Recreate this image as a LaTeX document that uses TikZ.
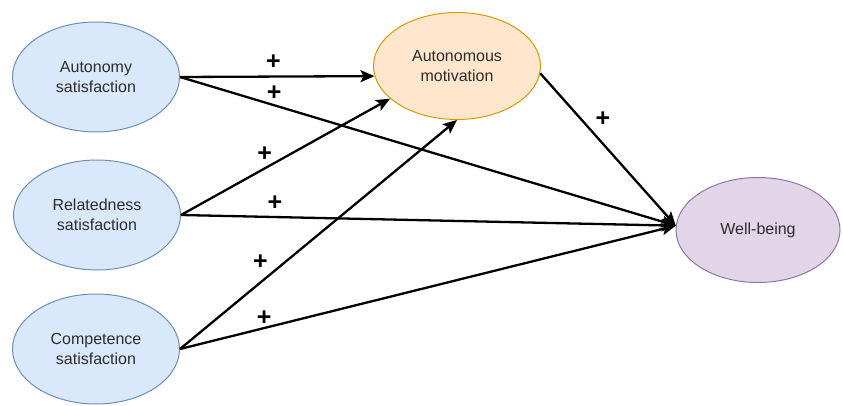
\documentclass[tikz,border=0pt]{standalone}
\usepackage{fontspec}
\setmainfont{Liberation Sans}
\usetikzlibrary{shapes.geometric,arrows.meta}
\definecolor{bluefill}{HTML}{DAE8FC}
\definecolor{blueline}{HTML}{6C8EBF}
\definecolor{orangefill}{HTML}{FFE6CC}
\definecolor{orangeline}{HTML}{D79B00}
\definecolor{purplefill}{HTML}{E1D5E7}
\definecolor{purpleline}{HTML}{9673A6}
\definecolor{textgrey}{RGB}{45,45,45}
\tikzset{
	construct/.style={ellipse,draw,line width=1pt,inner sep=0pt,minimum width=167pt,minimum height=110pt,
		align=center,text=textgrey,font=\fontsize{16}{19.5}\selectfont},
	path/.style={line width=2.3pt,-{Stealth[length=14pt,width=12pt,inset=3pt]}},
	sign/.style={inner sep=0pt,font=\bfseries\fontsize{25}{25}\selectfont}
}
\begin{document}
\begin{tikzpicture}[x=1pt,y=-1pt]
\useasboundingbox (0,0) rectangle (843,406);
\node [construct,fill=bluefill,draw=blueline]	(aut)	at (96,77)	{Autonomy\\satisfaction};
\node [construct,fill=bluefill,draw=blueline]	(rel)	at (97,215)	{Relatedness\\satisfaction};
\node [construct,fill=bluefill,draw=blueline]	(com)	at (96,349)	{Competence\\satisfaction};
\node [construct,fill=orangefill,draw=orangeline,minimum height=107pt]	(am)	at (457,66)	{Autonomous\\motivation};
\node [construct,fill=purplefill,draw=purpleline,minimum width=164pt,minimum height=105pt]	(wb)	at (758,230)	{Well-being};

\draw [path] (aut.east)--(am.187) node [sign,pos=0.48,yshift=14pt]{+};
\draw [path] (aut.east)--(wb.177) node [sign,pos=0.19,yshift=12pt]{+};

\draw [path] (rel.east)--(am.206) node [sign,pos=0.40,yshift=14pt]{+};
\draw [path] (rel.east)--(wb.177) node [sign,pos=0.19,yshift=14pt]{+};

\draw [path] (com.east)--(am.south) node [sign,pos=0.29,yshift=20pt]{+};
\draw [path] (com.east)--(wb.177) node [sign,pos=0.17,yshift=10pt]{+};

\draw [path] (am.355)--(wb.177) node [sign,pos=0.30,xshift=22pt]{+};
\end{tikzpicture}
\end{document}
